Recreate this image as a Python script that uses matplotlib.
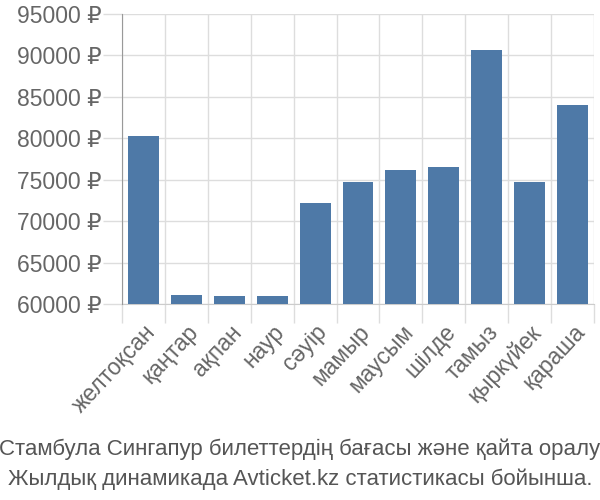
import matplotlib
matplotlib.use("Agg")
import matplotlib.pyplot as plt
import matplotlib.transforms as mtransforms
from matplotlib.ticker import FuncFormatter

months = ["желтоқсан", "қаңтар", "ақпан", "наур", "сәуір", "мамыр",
          "маусым", "шілде", "тамыз", "қыркүйек", "қараша"]
prices = [80300, 61050, 61000, 60970, 72190, 74720, 76130, 76530, 90650, 74720, 84050]
yticks = [60000, 65000, 70000, 75000, 80000, 85000, 90000, 95000]
caption = ["Стамбула Сингапур билеттердің бағасы және қайта оралу",
           "Жылдық динамикада Avticket.kz статистикасы бойынша."]

plt.rcParams['font.family'] = ['Liberation Sans', 'DejaVu Sans']

fig = plt.figure(figsize=(6, 5), dpi=100)
ax = fig.add_axes([122/600, 1-304/500, 472/600, 290/500])

x = list(range(len(months)))
base = yticks[0]
ax.bar(x, [p - base for p in prices], bottom=base, width=0.72, color="#4e79a7", zorder=3)

ax.set_xlim(-0.5, len(months) - 0.5)
ax.set_ylim(yticks[0], yticks[-1])
ax.set_yticks(yticks)
ax.yaxis.set_major_formatter(FuncFormatter(lambda v, p: f"{int(v)} ₽"))
ax.set_xticks([i - 0.5 for i in range(len(months) + 1)], minor=False)
ax.set_xticklabels([""] * (len(months) + 1))
ax.set_xticks(x, minor=True)
ax.set_xticklabels(months, minor=True, rotation=47, ha="right", rotation_mode="anchor")

offset = mtransforms.ScaledTranslation(-4/100, 0, fig.dpi_scale_trans)
for lbl in ax.get_xticklabels(minor=True):
    lbl.set_transform(lbl.get_transform() + offset)

ax.grid(True, which="major", color="#dddddd", linewidth=1, zorder=0)
ax.tick_params(axis="both", which="major", length=14, color="#dddddd", width=1,
               labelsize=16.5, labelcolor="#666666", pad=1)
ax.tick_params(axis="x", which="minor", length=0, labelsize=16.5, labelcolor="#666666", pad=12)

for s in ["top", "right"]:
    ax.spines[s].set_visible(False)
ax.spines["left"].set_color("#999999")
ax.spines["bottom"].set_color("#cccccc")
ax.spines["left"].set_zorder(4)

fig.text(0.5, 1-455/500, caption[0], ha="center", va="baseline", fontsize=16, color="#555555")
fig.text(0.5, 1-485/500, caption[1], ha="center", va="baseline", fontsize=16, color="#555555")

fig.savefig("out.png", dpi=100)
